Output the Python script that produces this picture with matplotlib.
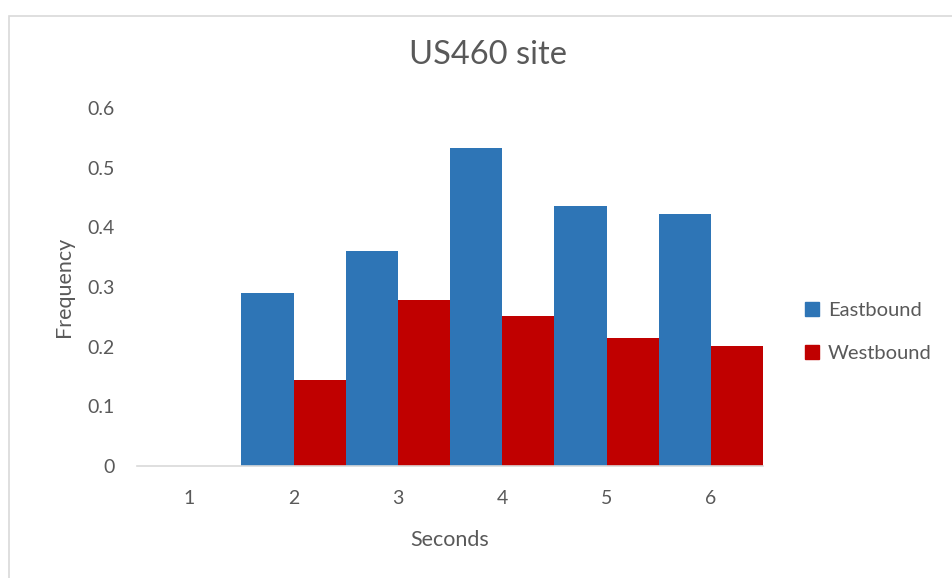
import matplotlib.pyplot as plt
from matplotlib.patches import Patch, Rectangle

# Frequency of headways by second, per direction
seconds = [1, 2, 3, 4, 5, 6]
eastbound = [0.0, 0.29, 0.36, 0.533, 0.436, 0.422]
westbound = [0.0, 0.144, 0.278, 0.251, 0.215, 0.201]
yticks = [0, 0.1, 0.2, 0.3, 0.4, 0.5, 0.6]

blue = "#2E75B6"
red = "#C00000"
text_color = "#595959"

plt.rcParams["font.family"] = ["Lato", "DejaVu Sans"]

W, H = 952, 578
fig = plt.figure(figsize=(W / 100, H / 100), dpi=100)

# chart-area border (left and top edges visible)
fig.patches.append(Rectangle((9 / W, -0.1), 1.2, (H - 16) / H + 0.1,
                             transform=fig.transFigure, fill=False,
                             edgecolor="#D9D9D9", linewidth=1.2))

ax = fig.add_axes([137 / W, (H - 466) / H, (763 - 137) / W, (466 - 108) / H])

width = 0.5
x = seconds
ax.bar([v - width / 2 for v in x], eastbound, width, color=blue, label="Eastbound")
ax.bar([v + width / 2 for v in x], westbound, width, color=red, label="Westbound")

ax.set_xlim(0.5, 6.5)
ax.set_ylim(0, 0.6)
ax.set_xticks(seconds)
ax.set_xticklabels([str(s) for s in seconds])
ax.set_yticks(yticks)
ax.set_yticklabels(["0"] + [f"{t:.1f}" for t in yticks[1:]])

for side in ["top", "right", "left"]:
    ax.spines[side].set_visible(False)
ax.spines["bottom"].set_color("#D9D9D9")
ax.spines["bottom"].set_linewidth(1.2)
ax.tick_params(length=0, labelsize=14, colors=text_color)
ax.tick_params(axis="x", pad=17)
ax.tick_params(axis="y", pad=16)

ax.set_xlabel("Seconds", fontsize=15.5, color=text_color, labelpad=17)
ax.set_ylabel("Frequency", fontsize=15.5, color=text_color, labelpad=10)
fig.text(488 / W, 1 - 55 / H, "US460 site", fontsize=23.5, color=text_color,
         ha="center", va="center")

handles = [Patch(color=blue), Patch(color=red)]
fig.legend(handles, ["Eastbound", "Westbound"], loc="center left",
           bbox_to_anchor=(805 / W, 1 - 332 / H), frameon=False,
           borderpad=0, borderaxespad=0,
           fontsize=14.5, labelcolor=text_color, handlelength=0.7,
           handleheight=0.7, handletextpad=0.45, labelspacing=1.3)

fig.savefig("out.png", dpi=100)
